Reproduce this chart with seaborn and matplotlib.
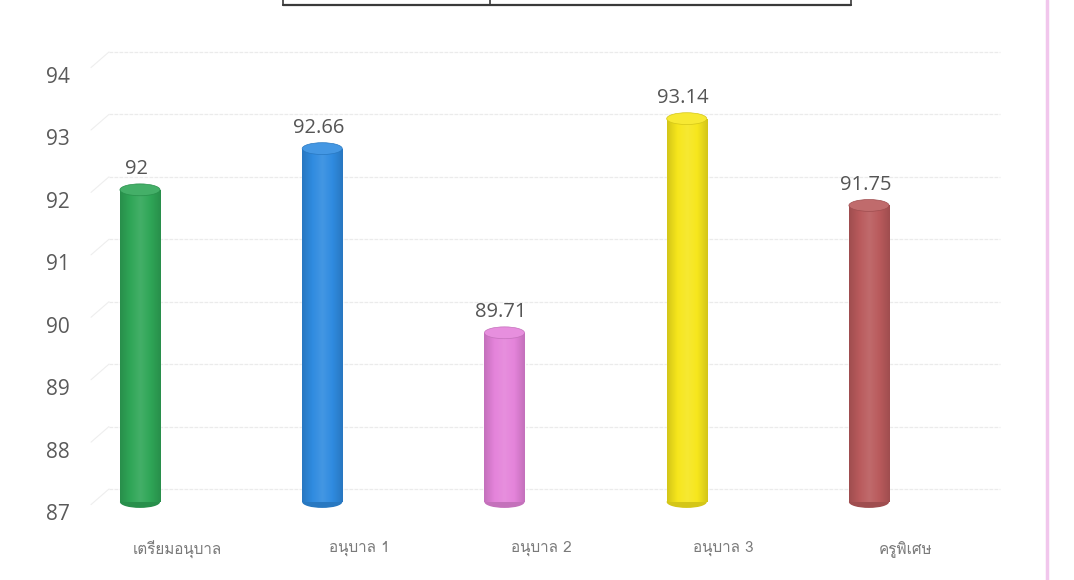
import numpy as np
import pandas as pd
import matplotlib
matplotlib.use("Agg")
import matplotlib.pyplot as plt
import matplotlib.transforms as mtransforms
from matplotlib import font_manager, ft2font
from matplotlib.patches import Ellipse
from matplotlib.colors import LinearSegmentedColormap, to_rgb
from matplotlib.lines import Line2D
import seaborn as sns

# data
categories = ["เตรียมอนุบาล", "อนุบาล 1", "อนุบาล 2", "อนุบาล 3", "ครูพิเศษ"]
scores = [92, 92.66, 89.71, 93.14, 91.75]
score_labels = ["92", "92.66", "89.71", "93.14", "91.75"]
y_ticks = [87, 88, 89, 90, 91, 92, 93, 94]
bar_colors = ["#2fa657", "#2f8be0", "#e483da", "#f6e61c", "#b95a5c"]


def find_thai_font():
    # pick any installed font that actually has Thai glyphs
    for f in font_manager.fontManager.ttflist:
        try:
            if 0x0E2D in ft2font.FT2Font(f.fname).get_charmap():
                return f.name
        except Exception:
            continue
    return None


sns.set_style("white")
plt.rcParams["font.family"] = ["Open Sans", "DejaVu Sans"]
thai_font = find_thai_font()
thai_family = [thai_font, "DejaVu Sans"] if thai_font else ["DejaVu Sans"]

df = pd.DataFrame({"group": categories, "score": scores})

fig = plt.figure(figsize=(10.74, 5.8), dpi=100)
ax = fig.add_axes([0.0931, 0.1345, 0.838, 0.7535])

bw = 0.22
sns.barplot(data=df, x="group", y="score", hue="group", palette=bar_colors,
            width=bw, legend=False, ax=ax, saturation=1)

ax.set_ylim(87, 94)
ax.set_xlim(-0.2195, 4.719)
ax.set_yticks(y_ticks)
ax.set_xlabel("")
ax.set_ylabel("")
for s in ax.spines.values():
    s.set_visible(False)

# barplot draws from 0; start the cylinders at the axis floor (87)
ell_h = 0.19
for p, c, lab in zip(ax.patches, bar_colors, score_labels):
    x0 = p.get_x()
    w = p.get_width()
    top = p.get_height()
    p.set_y(87)
    p.set_height(top - 87)
    base = np.array(to_rgb(c))
    dark = base * 0.86
    light = np.clip(base + (1 - base) * 0.10, 0, 1)
    cmap = LinearSegmentedColormap.from_list("cyl", [dark, base, light, base, dark])
    grad = np.linspace(0, 1, 64).reshape(1, -1)
    im = ax.imshow(grad, cmap=cmap, aspect="auto", extent=(x0, x0 + w, 87, top),
                   zorder=p.get_zorder() + 0.1, interpolation="bilinear")
    im.set_clip_path(p)
    ax.add_patch(Ellipse((x0 + w / 2, 87), w, ell_h, facecolor=dark, edgecolor="none",
                         zorder=p.get_zorder() + 0.05, clip_on=False))
    ax.add_patch(Ellipse((x0 + w / 2, top), w, ell_h, facecolor=light, edgecolor=dark,
                         linewidth=0.5, zorder=p.get_zorder() + 0.2))
    ax.text(x0 + w / 2 - 0.02, top + 0.33, lab, ha="center", va="center",
            fontsize=14.5, color="#555555")

ax.set_xlim(-0.2195, 4.719)
ax.set_ylim(87, 94)

# faint back-wall gridlines, sitting a little above the tick labels (3D look)
grid_shift = mtransforms.ScaledTranslation(0, 0.13, fig.dpi_scale_trans)
for t in y_ticks:
    ax.plot([0.01, 1.0], [t, t], transform=ax.get_yaxis_transform() + grid_shift,
            color="#ebebeb", linewidth=0.9, linestyle=(0, (3, 1)), zorder=0, clip_on=False)
    ax.plot([-0.01, 0.01], [t - 0.25, t], transform=ax.get_yaxis_transform() + grid_shift,
            color="#eeeeee", linewidth=0.8, zorder=0, clip_on=False)

ax.tick_params(axis="y", length=0, pad=22, labelsize=15, labelcolor="#5a5a5a")
ax.tick_params(axis="x", length=0, pad=28, labelsize=11, labelcolor="#7a7a7a")
ax.set_xticks(range(len(categories)))
ax.set_xticklabels(categories, family=thai_family)

ylab_shift = mtransforms.ScaledTranslation(0, -0.10, fig.dpi_scale_trans)
for t in ax.get_yticklabels():
    t.set_transform(t.get_transform() + ylab_shift)
xlab_shift = mtransforms.ScaledTranslation(0.37, 0, fig.dpi_scale_trans)
for t in ax.get_xticklabels():
    t.set_transform(t.get_transform() + xlab_shift)

# scanned-page bits: fragment of a table at the top and a pink margin line
W, H = 1074, 580
def px_line(xs, ys, **kw):
    fig.add_artist(Line2D([x / W for x in xs], [1 - y / H for y in ys],
                          transform=fig.transFigure, **kw))

px_line([283, 851], [5, 5], color="#3a3a3a", linewidth=1.6)
for xv in (283, 490, 851):
    px_line([xv, xv], [0, 5], color="#3a3a3a", linewidth=1.2)
px_line([1047, 1047], [0, 580], color="#f1c6ec", linewidth=2.5)

fig.savefig("out.png", dpi=100, facecolor="white")
